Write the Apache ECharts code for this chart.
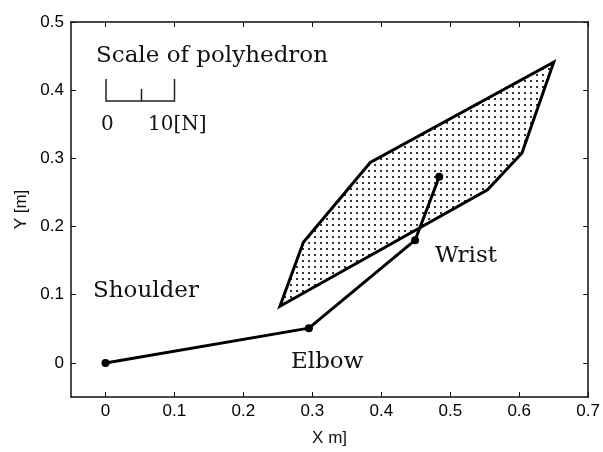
<!DOCTYPE html>
<html>
<head>
<meta charset="utf-8">
<script src="https://cdn.jsdelivr.net/npm/echarts@6/dist/echarts.min.js"></script>
<style>
  html, body { margin: 0; padding: 0; background: #fff; }
  #chart { width: 603px; height: 452px; }
</style>
</head>
<body>
<div id="chart"></div>
<script>
// axis ticks
const xTicks = [0, 0.1, 0.2, 0.3, 0.4, 0.5, 0.6, 0.7]
const yTicks = [0, 0.1, 0.2, 0.3, 0.4, 0.5]

// arm: shoulder -> elbow -> wrist -> hand
const armX = [0, 0.295, 0.449, 0.484]
const armY = [0, 0.051, 0.180, 0.273]

// force polyhedron outline
const polyX = [0.253, 0.287, 0.384, 0.650, 0.604, 0.554]
const polyY = [0.083, 0.177, 0.294, 0.441, 0.308, 0.254]

const serif = 'DejaVu Serif'
const sans = 'Liberation Sans'
const ink = '#111'

// dotted fill pattern
const dots = document.createElement('canvas')
dots.width = 6
dots.height = 6
const dctx = dots.getContext('2d')
dctx.fillStyle = '#333'
dctx.fillRect(2, 2, 2, 2)

const fmt = v => String(Number(v.toFixed(2)))

function axisBase(extra) {
  return Object.assign({
    type: 'value',
    axisLine: { show: true, onZero: false, lineStyle: { color: ink, width: 1.5 } },
    splitLine: { show: false }
  }, extra)
}

const chart = echarts.init(document.getElementById('chart'))

// text helper, y is the baseline
function label(text, x, y, size) {
  return {
    type: 'text',
    x: x,
    y: y - 0.3 * size,
    style: { text: text, fontFamily: serif, fontSize: size, fill: ink, verticalAlign: 'middle', align: 'left' }
  }
}

chart.setOption({
  animation: false,
  grid: { left: 71, right: 13, top: 22, bottom: 54 },
  xAxis: [
    axisBase({
      min: -0.05, max: 0.7, position: 'bottom',
      name: 'X m]', nameLocation: 'middle', nameGap: 33,
      nameTextStyle: { fontFamily: sans, fontSize: 17, color: ink },
      axisTick: { inside: true, length: 5, customValues: xTicks, lineStyle: { color: ink, width: 1 } },
      axisLabel: { customValues: xTicks, formatter: fmt, fontFamily: sans, fontSize: 17, color: '#000', margin: 6 }
    }),
    axisBase({
      min: -0.05, max: 0.7, position: 'top',
      axisTick: { inside: true, length: 5, customValues: xTicks, lineStyle: { color: ink, width: 1 } },
      axisLabel: { show: false }
    })
  ],
  yAxis: [
    axisBase({
      min: -0.05, max: 0.5, position: 'left',
      name: 'Y [m]', nameLocation: 'middle', nameGap: 38,
      nameTextStyle: { fontFamily: sans, fontSize: 17, color: ink },
      axisTick: { inside: true, length: 5, customValues: yTicks, lineStyle: { color: ink, width: 1 } },
      axisLabel: { customValues: yTicks, formatter: fmt, fontFamily: sans, fontSize: 17, color: '#000', margin: 7 }
    }),
    axisBase({
      min: -0.05, max: 0.5, position: 'right',
      axisTick: { inside: true, length: 5, customValues: yTicks, lineStyle: { color: ink, width: 1 } },
      axisLabel: { show: false }
    })
  ],
  series: [
    {
      name: 'polyhedron',
      type: 'custom',
      coordinateSystem: 'cartesian2d',
      data: [[polyX[0], polyY[0]]],
      renderItem(params, api) {
        const pts = polyX.map((x, i) => api.coord([x, polyY[i]]))
        return {
          type: 'polygon',
          shape: { points: pts },
          style: { fill: { image: dots, repeat: 'repeat' }, stroke: '#000', lineWidth: 3, lineJoin: 'miter' }
        }
      },
      z: 2
    },
    {
      name: 'arm',
      type: 'line',
      data: armX.map((x, i) => [x, armY[i]]),
      symbol: 'circle',
      symbolSize: 8,
      showAllSymbol: true,
      lineStyle: { color: '#000', width: 3 },
      itemStyle: { color: '#000' },
      z: 3
    }
  ],
  graphic: [
    label('Scale of polyhedron', 96, 63, 23),
    {
      type: 'polyline',
      shape: { points: [[106, 79], [106, 101], [174.5, 101], [174.5, 79]] },
      style: { stroke: '#222', lineWidth: 1.5, fill: null }
    },
    {
      type: 'line',
      shape: { x1: 141.5, y1: 89, x2: 141.5, y2: 101 },
      style: { stroke: '#222', lineWidth: 1.5 }
    },
    label('0', 101, 131, 20),
    label('10[N]', 148, 131, 20),
    label('Shoulder', 93, 298, 23),
    label('Elbow', 291, 369, 23),
    label('Wrist', 435, 263, 23)
  ]
})
</script>
</body>
</html>
